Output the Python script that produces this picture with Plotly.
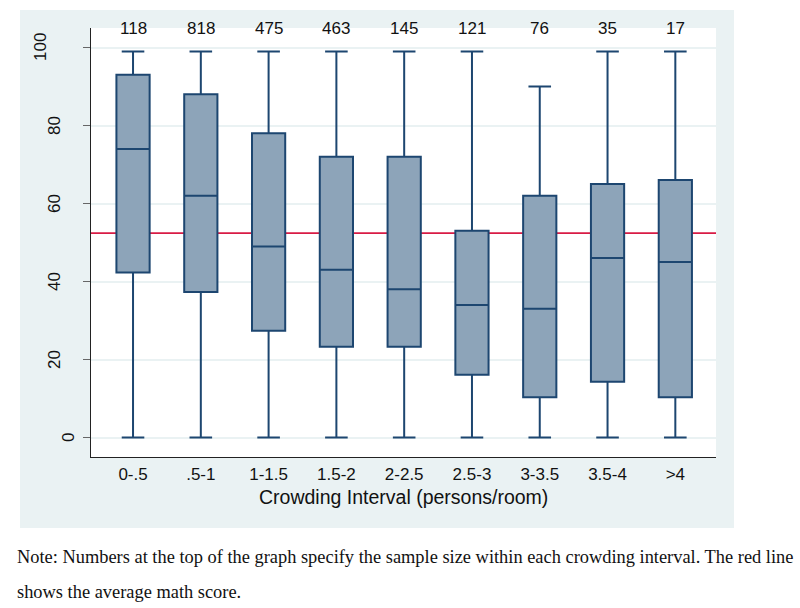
import plotly.graph_objects as go

categories = ["0-.5", ".5-1", "1-1.5", "1.5-2", "2-2.5", "2.5-3", "3-3.5", "3.5-4", ">4"]
counts = [118, 818, 475, 463, 145, 121, 76, 35, 17]
lower_whisker = [0, 0, 0, 0, 0, 0, 0, 0, 0]
q1 = [42.3, 37.3, 27.4, 23.3, 23.3, 16.1, 10.3, 14.3, 10.3]
median = [74, 62, 49, 43, 38, 34, 33, 46, 45]
q3 = [93, 88, 78, 72, 72, 53, 62, 65, 66]
upper_whisker = [99, 99, 99, 99, 99, 99, 90, 99, 99]
mean_score = 52.4
y_ticks = [0, 20, 40, 60, 80, 100]

x_title = "Crowding Interval (persons/room)"
note_line1 = "Note: Numbers at the top of the graph specify the sample size within each crowding interval. The red line"
note_line2 = "shows the average math score."

BG = "#eaf2f3"
BOX_FILL = "#8da4b9"
BOX_LINE = "#1d4670"
RED = "#d81b45"
SANS = "Liberation Sans, Arial, sans-serif"
SERIF = "Liberation Serif, Times New Roman, serif"

fig = go.Figure()
fig.add_trace(go.Box(
    x=categories,
    q1=q1, median=median, q3=q3,
    lowerfence=lower_whisker, upperfence=upper_whisker,
    width=0.49, whiskerwidth=0.68,
    fillcolor=BOX_FILL,
    line=dict(color=BOX_LINE, width=2),
    boxpoints=False,
    showlegend=False,
    hoverinfo="skip",
))

shapes = [
    dict(type="rect", xref="paper", yref="paper", x0=-0.1136, x1=1.0288, y0=-0.1655, y1=1.042,
         fillcolor=BG, line=dict(width=0), layer="below"),
    dict(type="rect", xref="paper", yref="paper", x0=0, x1=1, y0=0, y1=1,
         fillcolor="white", line=dict(width=0), layer="below"),
    dict(type="line", xref="paper", yref="y", x0=0, x1=1, y0=mean_score, y1=mean_score,
         line=dict(color=RED, width=1.6), layer="below"),
]

annotations = []
for c, n in zip(categories, counts):
    annotations.append(dict(x=c, y=105, xref="x", yref="y", text=str(n), showarrow=False,
                            xanchor="center", yanchor="middle",
                            font=dict(family=SANS, size=17, color="#111")))
for v in y_ticks:
    lab = str(v)
    annotations.append(dict(x=0, y=v, xref="paper", yref="y", text=lab, showarrow=False,
                            textangle=-90, xanchor="center", yanchor="middle",
                            xshift=-(8.5 + 14 * len(lab)),
                            font=dict(family=SANS, size=17, color="#111")))
annotations.append(dict(x=0.5, y=-0.0944, xref="paper", yref="paper", text=x_title, showarrow=False,
                        xanchor="center", yanchor="middle",
                        font=dict(family=SANS, size=19.5, color="#111")))
annotations.append(dict(x=-0.1216, y=-0.2331, xref="paper", yref="paper", text=note_line1, showarrow=False,
                        xanchor="left", yanchor="middle",
                        font=dict(family=SERIF, size=18.4, color="#111")))
annotations.append(dict(x=-0.1216, y=-0.3147, xref="paper", yref="paper", text=note_line2, showarrow=False,
                        xanchor="left", yanchor="middle",
                        font=dict(family=SERIF, size=18.4, color="#111")))

fig.update_layout(
    width=800, height=608,
    margin=dict(l=91, r=84, t=28, b=151, pad=0),
    paper_bgcolor="white",
    plot_bgcolor="white",
    shapes=shapes,
    annotations=annotations,
    showlegend=False,
    xaxis=dict(
        type="category", range=[-0.62, 8.6],
        showline=True, linecolor="#222", linewidth=1.3,
        ticks="", showgrid=False, zeroline=False,
        tickfont=dict(family=SANS, size=17, color="#111"),
        ticklabelstandoff=1,
    ),
    yaxis=dict(
        range=[-5, 105], tickvals=y_ticks, showticklabels=False,
        ticks="outside", ticklen=7, tickcolor="#666", tickwidth=1.3,
        showline=True, linecolor="#222", linewidth=1.3,
        showgrid=True, gridcolor=BG, gridwidth=1.5, zeroline=False,
    ),
)

fig.write_html("out.html", config={"displayModeBar": False},
               post_script="document.body.style.margin='0';document.body.style.overflow='hidden';")
